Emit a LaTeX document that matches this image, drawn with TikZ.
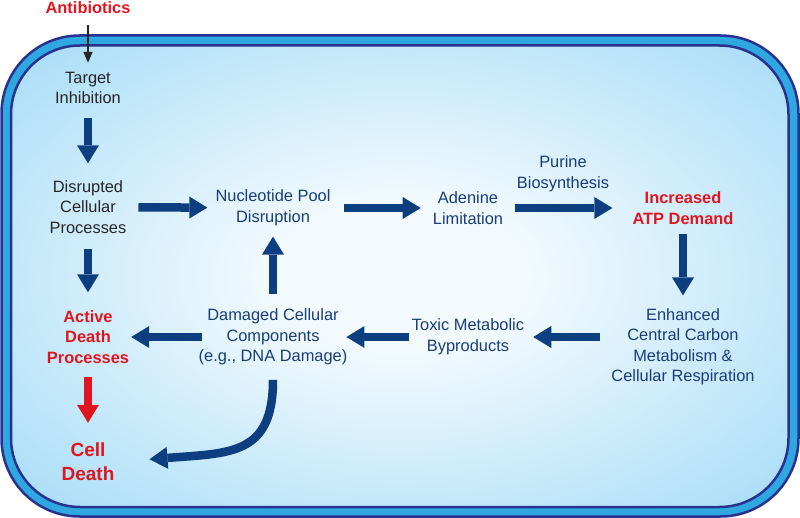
\documentclass[tikz,border=0pt]{standalone}
\usepackage{fontspec}
\setmainfont{Liberation Sans}
\usetikzlibrary{arrows.meta}

\definecolor{flowblue}{HTML}{0D3F80}
\definecolor{txtblue}{HTML}{1A3C78}
\definecolor{deathred}{HTML}{E0161E}
\definecolor{rimdark}{HTML}{2A3290}
\definecolor{rimlight}{HTML}{2FA8E2}
\definecolor{cellin}{HTML}{F2FAFE}
\definecolor{cellout}{HTML}{8AD1F4}

\pgfdeclareradialshading{cellshade}{\pgfpoint{0bp}{0bp}}{%
  color(0bp)=(cellin); color(8bp)=(cellin); color(46bp)=(cellout); color(100bp)=(cellout)}

\begin{document}
\begin{tikzpicture}[x=1pt, y=-1pt,
    txt/.style={align=center, inner sep=0pt, font=\fontsize{16.4}{20.5}\selectfont},
    blue txt/.style={txt, text=txtblue},
    dark txt/.style={txt, text=black!85},
    red txt/.style={txt, text=deathred, font=\bfseries\fontsize{16.4}{20.5}\selectfont},
    flow/.style={draw=flowblue, line width=8.5pt,
      -{Triangle[width=22pt, length=18pt, line width=0pt]}},
  ]
  \useasboundingbox (0,0) rectangle (800,518);

  % cell envelope
  \draw[rimdark, line width=2.5pt, fill=rimlight, rounded corners=78pt]
    (1.5,35.5) rectangle (798.5,516.5);
  \shadedraw[shading=cellshade, draw=rimdark, line width=2.5pt, rounded corners=69pt]
    (11,45.5) rectangle (788.5,507);

  % steps
  \node[red txt] (anti) at (88,8) {Antibiotics};
  \node[dark txt] (tgt) at (88,88) {Target\\Inhibition};
  \node[dark txt] (dis) at (88,207) {Disrupted\\Cellular\\Processes};
  \node[red txt] (act) at (88,337) {Active\\Death\\Processes};
  \node[red txt, font=\bfseries\fontsize{19}{24}\selectfont] (cell) at (88,462) {Cell\\Death};
  \node[blue txt] (nuc) at (273,208) {Nucleotide Pool\\Disruption};
  \node[blue txt] (ade) at (468,208) {Adenine\\Limitation};
  \node[blue txt] (pur) at (563,174) {Purine\\Biosynthesis};
  \node[red txt] (atp) at (683,208) {Increased\\ATP Demand};
  \node[blue txt] (enh) at (683,347) {Enhanced\\Central Carbon\\Metabolism \&\\Cellular Respiration};
  \node[blue txt] (tox) at (468,337) {Toxic Metabolic\\Byproducts};
  \node[blue txt] (dam) at (273,337) {Damaged Cellular\\Components\\(e.g., DNA Damage)};

  % arrows
  \draw[black!85, line width=1.5pt, -{Triangle[width=9pt, length=11pt]},
    shorten <=11pt, shorten >=9pt] (anti) -- (tgt);
  \draw[flow, shorten <=14pt, shorten >=17pt] (tgt) -- (dis);
  \draw[flow, shorten <=15pt, shorten >=18pt] (dis) -- (act);
  \draw[flow, draw=deathred, shorten <=13pt, shorten >=20pt] (act) -- (cell);
  \draw[flow, shorten <=12pt, shorten >=8pt] (dis) -- (nuc);
  \draw[flow, shorten <=13pt, shorten >=12pt] (nuc) -- (ade);
  \draw[flow, shorten <=12pt, shorten >=20pt] (ade) -- (atp);
  \draw[flow, shorten <=10pt, shorten >=13pt] (atp) -- (enh);
  \draw[flow, shorten <=11pt, shorten >=9pt] (enh.west |- tox) -- (tox);
  \draw[flow, shorten <=3pt, shorten >=-1pt] (tox) -- (dam);
  \draw[flow, shorten <=-3pt, shorten >=2pt] (dam) -- (act);
  \draw[flow, shorten <=15pt, shorten >=10.5pt] (dam) -- (nuc);
  \draw[flow, shorten <=14.5pt, shorten >=35pt]
    (dam.south) .. controls +(0,90) and +(116,-9) .. (cell.east);
\end{tikzpicture}
\end{document}
